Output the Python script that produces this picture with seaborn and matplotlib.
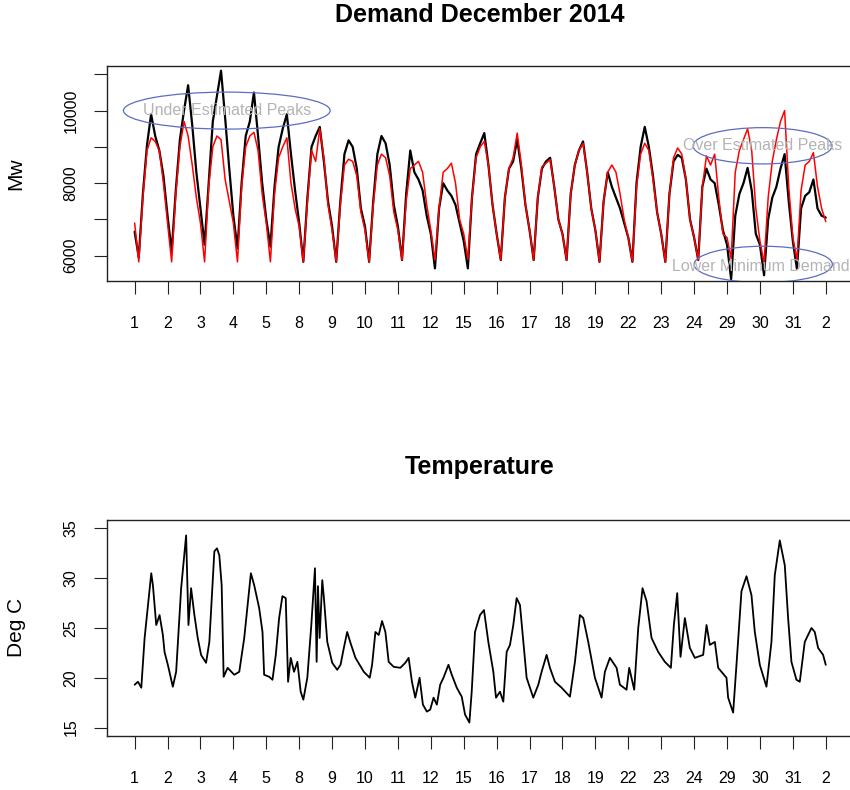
import numpy as np
import pandas as pd
import matplotlib
matplotlib.use("Agg")
import matplotlib.pyplot as plt
from matplotlib.patches import Ellipse
import seaborn as sns

# ---------------- data ----------------
day_labels = ['1', '2', '3', '4', '5', '8', '9', '10', '11', '12', '15', '16',
              '17', '18', '19', '22', '23', '24', '29', '30', '31', '2']
slot_hours = [0, 3, 6, 9, 12, 15, 18, 21]          # 3-hourly readings per day

# actual demand (Mw), one row per plotted day
actual_mw = [
    6660, 5950, 7700, 9050, 9900, 9300, 8900, 8200,    # 1
    7100, 6110, 7800, 9200, 10000, 10700, 9600, 8300,  # 2
    7300, 6300, 8000, 9700, 10400, 11100, 9800, 8400,  # 3
    7100, 6200, 8000, 9300, 9700, 10500, 9300, 8000,   # 4
    7000, 6250, 7900, 9000, 9500, 9900, 8800, 7800,    # 5
    6900, 5830, 7600, 9000, 9300, 9550, 8600, 7500,    # 8
    6800, 5830, 7500, 8800, 9180, 9000, 8400, 7300,    # 9
    6800, 5830, 7500, 8800, 9300, 9100, 8500, 7400,    # 10
    6800, 5880, 7700, 8900, 8300, 8100, 7800, 7100,    # 11
    6600, 5650, 7300, 8000, 7800, 7650, 7400, 6900,    # 12
    6400, 5650, 7600, 8800, 9100, 9380, 8500, 7400,    # 15
    6600, 5880, 7600, 8400, 8600, 9200, 8400, 7400,    # 16
    6700, 5880, 7600, 8400, 8600, 8700, 7900, 7000,    # 17
    6600, 5880, 7700, 8500, 8900, 9150, 8300, 7300,    # 18
    6700, 5830, 7500, 8300, 7900, 7600, 7300, 6900,    # 19
    6500, 5830, 8000, 9000, 9550, 9000, 8200, 7200,    # 22
    6600, 5830, 7700, 8600, 8780, 8700, 8100, 7000,    # 23
    6500, 5880, 7900, 8400, 8100, 8000, 7400, 6700,    # 24
    6300, 5350, 7100, 7700, 8000, 8420, 7800, 6600,    # 29
    6300, 5460, 7000, 7600, 7900, 8400, 8800, 7500,    # 30
    6400, 5630, 7300, 7650, 7750, 8100, 7300, 7100,    # 31
    7050,                                              # end
]

# forecast demand (Mw)
forecast_mw = [
    6900, 5830, 7600, 8900, 9250, 9150, 8900, 8000,
    6900, 5830, 7700, 9000, 9700, 9300, 8500, 7600,
    6900, 5830, 7900, 9000, 9300, 9200, 8100, 7500,
    6900, 5830, 7900, 9000, 9300, 9400, 8900, 7700,
    6900, 5830, 7700, 8700, 9000, 9250, 8000, 7300,
    6800, 5830, 7500, 8900, 8600, 9500, 8700, 7400,
    6700, 5830, 7400, 8500, 8660, 8600, 8200, 7200,
    6700, 5830, 7400, 8500, 8800, 8700, 8200, 7200,
    6700, 5880, 7500, 8400, 8500, 8600, 8300, 7400,
    6700, 5880, 7300, 8300, 8400, 8550, 8000, 7000,
    6600, 5900, 7600, 8700, 9000, 9150, 8500, 7400,
    6600, 5880, 7600, 8400, 8700, 9380, 8500, 7400,
    6700, 5880, 7600, 8450, 8550, 8650, 7900, 7000,
    6600, 5880, 7700, 8500, 8900, 9100, 8300, 7300,
    6700, 5830, 7500, 8300, 8500, 8300, 7700, 7000,
    6500, 5830, 7900, 8800, 9100, 8900, 8100, 7200,
    6600, 5830, 7700, 8700, 8970, 8800, 8100, 7000,
    6500, 5880, 7900, 8750, 8500, 8800, 7600, 6600,
    6500, 5920, 8300, 8900, 9200, 9500, 8900, 7300,
    6400, 5800, 7600, 8600, 9200, 9700, 10000, 7900,
    6500, 5880, 7800, 8500, 8600, 8840, 7900, 7300,
    6940,
]

# temperature readings: position (days from start of plotted record), deg C
temp_day = [
    0.000, 0.101, 0.202, 0.303, 0.404, 0.505, 0.555, 0.656, 0.757, 0.858, 0.908,
    1.009, 1.160, 1.261, 1.413, 1.564, 1.635, 1.715, 1.816, 1.917,
    2.018, 2.170, 2.270, 2.422, 2.503, 2.573, 2.644, 2.704, 2.825,
    3.027, 3.179, 3.330, 3.532, 3.633, 3.784, 3.885, 3.935,
    4.087, 4.188, 4.289, 4.390, 4.490, 4.591, 4.662, 4.743, 4.844, 4.945,
    5.045, 5.126, 5.247, 5.368, 5.479, 5.530, 5.570, 5.621, 5.701, 5.752, 5.853,
    6.004, 6.155, 6.256, 6.357, 6.458, 6.559, 6.710, 6.963,
    7.144, 7.215, 7.316, 7.417, 7.518, 7.619, 7.719, 7.871,
    8.073, 8.224, 8.325, 8.426, 8.527, 8.658, 8.759, 8.880, 8.981,
    9.082, 9.183, 9.284, 9.384, 9.536, 9.637, 9.788, 9.939,
    10.040, 10.171, 10.242, 10.342, 10.494, 10.615, 10.747, 10.899, 10.980,
    11.101, 11.202, 11.304, 11.405, 11.506, 11.607, 11.709, 11.810, 11.911,
    12.113, 12.265, 12.366, 12.518, 12.619, 12.771, 12.974,
    13.227, 13.379, 13.530, 13.632, 13.783, 13.986,
    14.188, 14.289, 14.441, 14.644, 14.745, 14.947,
    15.028, 15.180, 15.302, 15.433, 15.555, 15.706, 15.909,
    16.111, 16.294, 16.385, 16.486, 16.587, 16.719, 16.870,
    17.022, 17.275, 17.377, 17.478, 17.630, 17.731, 17.984,
    18.034, 18.186, 18.287, 18.439, 18.591, 18.743, 18.844, 18.996,
    19.198, 19.350, 19.451, 19.603, 19.755, 19.856, 19.957,
    20.109, 20.211, 20.362, 20.565, 20.666, 20.767, 20.919, 21.000,
]
temp_deg = [
    19.3, 19.6, 19.0, 24.0, 27.3, 30.5, 29.3, 25.3, 26.3, 24.3, 22.6,
    21.3, 19.1, 20.6, 29.0, 34.3, 25.3, 29.0, 26.3, 24.0,
    22.3, 21.5, 23.6, 32.7, 33.0, 32.3, 29.3, 20.1, 21.0,
    20.3, 20.6, 24.0, 30.5, 29.3, 27.0, 24.6, 20.3,
    20.1, 19.8, 22.3, 26.0, 28.2, 28.0, 19.6, 22.0, 20.6, 21.6,
    18.6, 17.8, 20.0, 25.3, 31.0, 21.6, 29.2, 24.0, 29.8, 28.0, 23.6,
    21.5, 20.8, 21.3, 23.0, 24.6, 23.5, 22.0, 20.6,
    20.0, 21.3, 24.6, 24.3, 25.7, 24.6, 21.6, 21.1,
    21.0, 21.5, 22.0, 19.6, 18.0, 20.0, 17.3, 16.6, 16.8,
    18.0, 17.3, 19.3, 20.0, 21.3, 20.3, 19.0, 18.1,
    16.3, 15.5, 18.6, 24.6, 26.3, 26.8, 23.6, 20.6, 18.0,
    18.6, 17.6, 22.6, 23.3, 25.3, 28.0, 27.3, 23.6, 20.0,
    18.0, 19.3, 20.6, 22.3, 21.0, 19.6, 19.0,
    18.1, 21.6, 26.3, 26.0, 23.6, 20.0,
    18.0, 20.6, 22.0, 21.0, 19.3, 18.8,
    21.0, 18.8, 25.0, 29.0, 27.7, 24.0, 22.6,
    21.6, 21.0, 25.3, 28.5, 22.1, 26.0, 23.0,
    22.0, 22.3, 25.3, 23.3, 23.6, 21.0, 20.0,
    18.0, 16.5, 21.3, 28.7, 30.2, 28.3, 24.6, 21.3,
    19.1, 23.6, 30.3, 33.8, 31.3, 26.0, 21.6,
    19.8, 19.6, 23.6, 25.0, 24.6, 23.0, 22.3, 21.3,
]

# annotations (text, centre day, centre Mw, width in days, height in Mw)
note_text = ['Under Estimated Peaks', 'Over Estimated Peaks', 'Lower Minimum Demand']
note_day = [2.8, 19.08, 19.1]
note_mw = [10000, 9030, 5760]
note_w = [6.28, 4.22, 4.2]
note_h = [1020, 1000, 1000]

# ---------------- build tables ----------------
n_days = len(day_labels) - 1
demand_t = [d + h / 24 for d in range(n_days) for h in slot_hours] + [n_days]
demand = pd.DataFrame({'t': demand_t, 'actual': actual_mw, 'forecast': forecast_mw})
temp = pd.DataFrame({'t': temp_day, 'deg': temp_deg})

# ---------------- style ----------------
sns.set_style("ticks")
plt.rcParams['font.family'] = ['Liberation Sans', 'DejaVu Sans']
plt.rcParams['text.color'] = 'black'
plt.rcParams['axes.labelcolor'] = 'black'
plt.rcParams['xtick.color'] = 'black'
plt.rcParams['ytick.color'] = 'black'

W, H = 850, 790
fig = plt.figure(figsize=(W / 100, H / 100), dpi=100)

def px_axes(left, top, right, bottom):
    return fig.add_axes([left / W, 1 - bottom / H, (right - left) / W, (bottom - top) / H])

ax1 = px_axes(107, 65.7, 853.4, 280.7)
ax2 = px_axes(107, 520, 853.4, 735.5)

sns.lineplot(data=demand, x='t', y='actual', ax=ax1, color='black', lw=1.6,
             estimator=None, sort=False)
sns.lineplot(data=demand, x='t', y='forecast', ax=ax1, color='#ff0000', lw=1.1,
             estimator=None, sort=False)
sns.lineplot(data=temp, x='t', y='deg', ax=ax2, color='black', lw=1.3,
             estimator=None, sort=False)

for i, (txt, cx, cy, w, h) in enumerate(zip(note_text, note_day, note_mw, note_w, note_h)):
    ax1.add_patch(Ellipse((cx, cy), w, h, fill=False, edgecolor='#5a6ec0', lw=0.9, zorder=5))
    tx = cx - 0.07 if i == 2 else cx
    ax1.text(tx, cy - (60 if i == 2 else 0), txt, color='#b4b4b4', fontsize=11.5,
             ha='center', va='center', zorder=6, clip_on=False)

xt = list(range(len(day_labels)))
for ax in (ax1, ax2):
    ax.set_xlim(-0.84, 21.84)
    ax.set_xticks(xt)
    ax.set_xticklabels(day_labels, fontsize=11.5)
    ax.set_xlabel('')
    ax.tick_params(axis='x', length=9.5, width=0.8, pad=16, color='#222222')
    ax.tick_params(axis='y', length=9.5, width=0.8, pad=11, color='#222222')
    for s in ax.spines.values():
        s.set_visible(True)
        s.set_linewidth(1.0)
        s.set_color('#222222')

ax1.set_ylim(5310, 11238)
ax1.set_yticks([6000, 7000, 8000, 9000, 10000, 11000])
ax1.set_yticklabels(['6000', '', '8000', '', '10000', ''], rotation=90, va='center',
                    fontsize=11.5)
ax1.set_ylabel('Mw', fontsize=15, va='center')
ax1.yaxis.set_label_coords((16 - 107) / 746.4, 0.5)

ax2.set_ylim(14.2, 35.85)
ax2.set_yticks([15, 20, 25, 30, 35])
ax2.set_yticklabels(['15', '20', '25', '30', '35'], rotation=90, va='center', fontsize=11.5)
ax2.set_ylabel('Deg C', fontsize=15, va='center')
ax2.yaxis.set_label_coords((16 - 107) / 746.4, 0.5)

fig.text(480 / W, 1 - 21.7 / H, 'Demand December 2014', ha='center', va='baseline',
         fontsize=18, fontweight='bold', color='black')
fig.text(480 / W, 1 - 474 / H, 'Temperature', ha='center', va='baseline',
         fontsize=18, fontweight='bold', color='black')

fig.savefig('out.png', dpi=100, facecolor='white')
